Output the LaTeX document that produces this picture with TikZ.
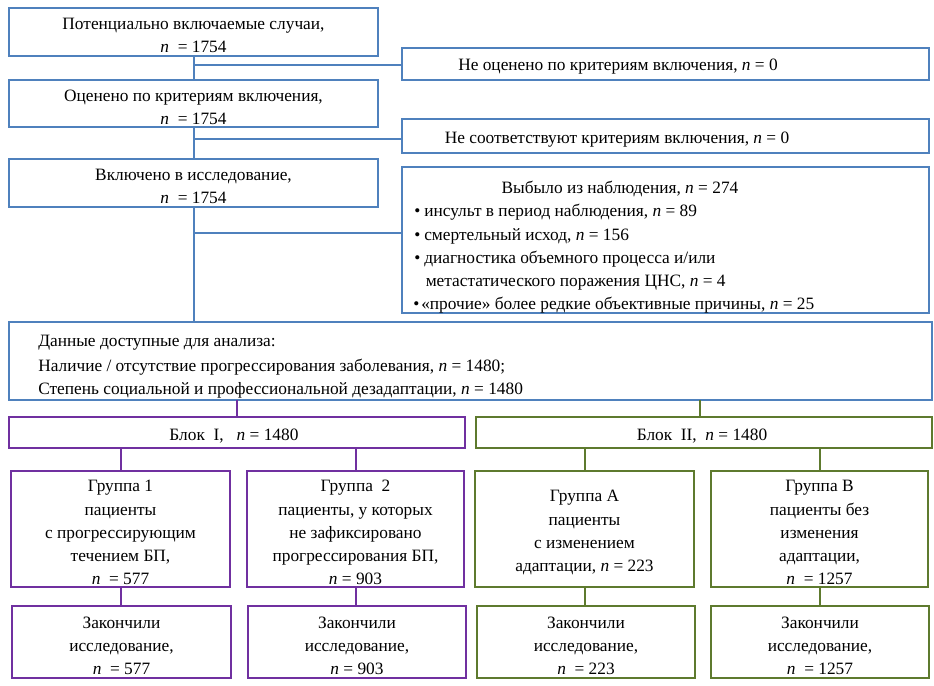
\documentclass[tikz,border=0pt]{standalone}
\usepackage{fontspec}
\setmainfont{Liberation Serif}
\definecolor{cblue}{HTML}{4F81BD}
\definecolor{cpurp}{HTML}{7030A0}
\definecolor{cgreen}{HTML}{5E7A2E}
\newcommand{\nn}{\textit{n}}
\newcommand{\bul}[1]{\makebox[#1][l]{•}}
\newcommand{\tstr}{\rule{0pt}{14.2pt}}
\begin{document}
\begin{tikzpicture}[x=0.75pt,y=-0.75pt,
  every node/.style={font=\fontsize{13}{17.4}\selectfont},
  box/.style={draw, line width=1.5pt, rectangle, inner sep=0pt, align=center},
  bbox/.style={box, draw=cblue},
  pbox/.style={box, draw=cpurp},
  gbox/.style={box, draw=cgreen},
  bl/.style={draw=cblue, line width=1.5pt},
  pl/.style={draw=cpurp, line width=1.5pt},
  gl/.style={draw=cgreen, line width=1.5pt},
  txt/.style={inner sep=0pt, align=left, yshift=-2.2pt}]
\useasboundingbox (0,0) rectangle (934,685);
\newcommand{\boxat}[6]{\node[#1, minimum width={(#4-#2)*0.75pt}, minimum height={(#5-#3)*0.75pt}] (#6) at ({(#2+#4)/2},{(#3+#5)/2})}
% top chain
\boxat{bbox}{9}{8}{378}{56}{b1} {\tstr Потенциально включаемые случаи,\\ \nn\ \ =\ 1754};
\boxat{bbox}{402}{48}{929}{80}{ne} {};
\node[txt] (tne) at (618,64) {Не оценено по критериям включения, \nn\ = 0};
\boxat{bbox}{9}{80}{378}{127}{b2} {\tstr Оценено по критериям включения,\\ \nn\ \ =\ 1754};
\boxat{bbox}{402}{119}{929}{153}{ns} {};
\node[txt] (tns) at (617,137) {Не соответствуют критериям включения, \nn\ = 0};
\boxat{bbox}{9}{159}{378}{207}{b3} {\tstr Включено в исследование,\\ \nn\ \ =\ 1754};
\boxat{bbox}{402}{167}{929}{313}{vy} {};
\node[txt] (v0) at (620,186) {Выбыло из наблюдения, \nn\ = 274};
\node[txt,anchor=west] (v1) at (414,209) {\bul{7.5pt}инсульт в период наблюдения, \nn\ = 89};
\node[txt,anchor=west] (v2) at (414,233) {\bul{7.5pt}смертельный исход, \nn\ = 156};
\node[txt,anchor=west] (v3) at (414,256) {\bul{7.5pt}диагностика объемного процесса и/или};
\node[txt,anchor=west] (v4) at (425.5,280) {метастатического поражения ЦНС, \nn\ = 4};
\node[txt,anchor=west] (v5) at (413,302) {\bul{6pt}«прочие» более редкие объективные причины, \nn\ = 25};
\boxat{bbox}{9}{322}{932}{400}{data} {};
\node[txt,anchor=west] (d1) at (38,340) {Данные доступные для анализа:};
\node[txt,anchor=west] (d2) at (38,364) {Наличие / отсутствие прогрессирования заболевания, \nn\ = 1480;};
\node[txt,anchor=west] (d3) at (38,387) {Степень социальной и профессиональной дезадаптации, \nn\ = 1480};
% blocks
\boxat{pbox}{9}{417}{465}{448}{k1} {};
\node[txt] (tk1) at (234,433) {Блок\ \ I,\ \ \ \nn\ = 1480};
\boxat{gbox}{476}{417}{932}{448}{k2} {};
\node[txt] (tk2) at (702,433) {Блок\ \ II,\ \ \nn\ = 1480};
% groups
\boxat{pbox}{11}{471}{230}{587}{g1} {\tstr Группа 1\\ пациенты\\ с прогрессирующим\\ течением БП,\\ \nn\ \ = 577};
\boxat{pbox}{247}{471}{464}{587}{g2} {\tstr Группа\ \ 2\\ пациенты, у которых\\ не зафиксировано\\ прогрессирования БП,\\ \nn\ = 903};
\boxat{gbox}{475}{471}{694}{587}{ga} {\tstr Группа А\\ пациенты\\ с изменением\\ адаптации, \nn\ = 223};
\boxat{gbox}{711}{471}{928}{587}{gb} {\tstr Группа В\\ пациенты без\\ изменения\\ адаптации,\\ \nn\ \ = 1257};
% finished
\boxat{pbox}{12}{606}{231}{678}{f1} {\tstr Закончили\\ исследование,\\ \nn\ \ = 577};
\boxat{pbox}{248}{606}{466}{678}{f2} {\tstr Закончили\\ исследование,\\ \nn\ = 903};
\boxat{gbox}{477}{606}{695}{678}{fa} {\tstr Закончили\\ исследование,\\ \nn\ \ = 223};
\boxat{gbox}{711}{606}{929}{678}{fb} {\tstr Закончили\\ исследование,\\ \nn\ \ = 1257};
% connectors
\coordinate (c1) at (402,65);
\coordinate (c2) at (402,139);
\coordinate (c3) at (402,233);
\draw[bl] (b1.south) -- (b2.north);
\draw[bl] (c1 -| b1.south) -- (ne.west |- c1);
\draw[bl] (b2.south) -- (b3.north);
\draw[bl] (c2 -| b2.south) -- (ns.west |- c2);
\draw[bl] (b3.south) -- (b3.south |- data.north);
\draw[bl] (c3 -| b3.south) -- (vy.west |- c3);
\coordinate (c5) at (237,400);
\draw[pl] (c5) -- (c5 |- k1.north);
\coordinate (c4) at (700,400);
\draw[gl] (c4) -- (c4 |- k2.north);
\draw[pl] (k1.south -| g1.north) -- (g1.north);
\draw[pl] (k1.south -| g2.north) -- (g2.north);
\draw[gl] (k2.south -| ga.north) -- (ga.north);
\draw[gl] (k2.south -| gb.north) -- (gb.north);
\draw[pl] (g1.south) -- (g1.south |- f1.north);
\draw[pl] (g2.south) -- (g2.south |- f2.north);
\draw[gl] (ga.south) -- (ga.south |- fa.north);
\draw[gl] (gb.south) -- (gb.south |- fb.north);
\end{tikzpicture}
\end{document}
